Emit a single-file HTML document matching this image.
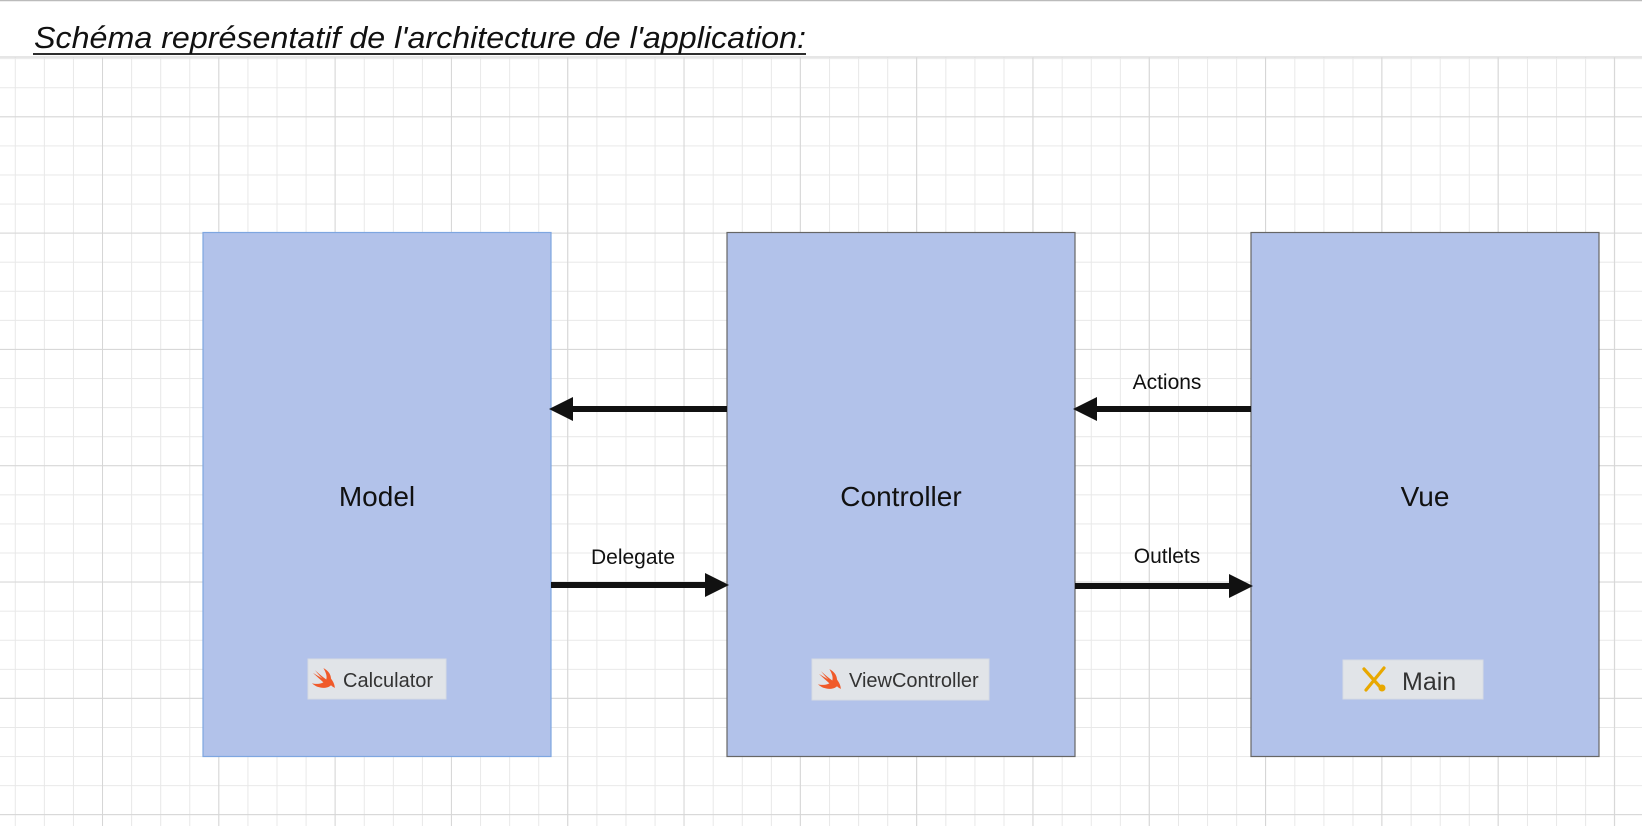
<!DOCTYPE html>
<html><head><meta charset="utf-8"><style>
html,body{margin:0;padding:0;background:#fff;}
svg{display:block;}
text{font-family:"Liberation Sans",sans-serif;}
</style></head><body>
<svg width="1642" height="826" viewBox="0 0 1642 826" xmlns="http://www.w3.org/2000/svg">
<defs>
<pattern id="minor" x="14.8" y="0" width="29.08" height="29.08" patternUnits="userSpaceOnUse">
<path d="M0 0 H29.08 M0 0 V29.08" stroke="#e8e8e8" stroke-width="2" fill="none"/>
</pattern>
<pattern id="major" x="102" y="0" width="116.3" height="116.3" patternUnits="userSpaceOnUse">
<path d="M0 0 H116.3 M0 0 V116.3" stroke="#d6d6d6" stroke-width="2" fill="none"/>
</pattern>
<g id="swift">
<path d="M0 14 C6 20 16 20 20 16 C22 18 23 18 24 19 C24 15 22 12 20 9 C20 4 16 0 12 -2 C15 3 16 7 15 10 C11 7 6 3 3 0 C6 4 9 7 11 9 C8 7 4 5 1 3 C5 7 9 10 12 13 C8 15 3 15 0 14Z" fill="#f05a2a"/>
</g>
</defs>
<rect x="0" y="57" width="1642" height="769" fill="url(#minor)"/>
<rect x="0" y="57" width="1642" height="769" fill="url(#major)"/>
<rect x="0" y="0" width="1642" height="57" fill="#fff"/>
<line x1="0" y1="0.5" x2="1642" y2="0.5" stroke="#bbb" stroke-width="1.5"/>
<line x1="0" y1="57" x2="1642" y2="57" stroke="#ddd" stroke-width="1.5"/>
<text x="34" y="48" font-size="31" font-style="italic" fill="#111" textLength="772" lengthAdjust="spacingAndGlyphs">Schéma représentatif de l'architecture de l'application:</text>
<line x1="33" y1="54" x2="806" y2="54" stroke="#111" stroke-width="1.8"/>

<rect x="203" y="232.5" width="348" height="524" fill="#b2c2ea" stroke="#7ea6e0" stroke-width="1.2"/>
<rect x="727" y="232.5" width="348" height="524" fill="#b2c2ea" stroke="#666" stroke-width="1.2"/>
<rect x="1251" y="232.5" width="348" height="524" fill="#b2c2ea" stroke="#666" stroke-width="1.2"/>

<text x="377" y="506" font-size="28" text-anchor="middle" fill="#111">Model</text>
<text x="901" y="506" font-size="28" text-anchor="middle" fill="#111">Controller</text>
<text x="1425" y="506" font-size="28" text-anchor="middle" fill="#111">Vue</text>

<line x1="727" y1="409" x2="570" y2="409" stroke="#111" stroke-width="6"/>
<path d="M549 409 L573 397 L573 421 Z" fill="#111"/>
<line x1="551" y1="585" x2="708" y2="585" stroke="#111" stroke-width="6"/>
<path d="M729 585 L705 573 L705 597 Z" fill="#111"/>
<line x1="1251" y1="409" x2="1094" y2="409" stroke="#111" stroke-width="6"/>
<path d="M1073 409 L1097 397 L1097 421 Z" fill="#111"/>
<line x1="1075" y1="586" x2="1232" y2="586" stroke="#111" stroke-width="6"/>
<path d="M1253 586 L1229 574 L1229 598 Z" fill="#111"/>

<text x="633" y="564" font-size="21" text-anchor="middle" fill="#111">Delegate</text>
<text x="1167" y="389" font-size="21" text-anchor="middle" fill="#111">Actions</text>
<text x="1167" y="563" font-size="21" text-anchor="middle" fill="#111">Outlets</text>

<rect x="308" y="659" width="138" height="40" fill="#e1e4e8" stroke="#d6dbe3"/>
<use href="#swift" transform="translate(312,670) scale(0.95)"/>
<text x="343" y="687" font-size="20" fill="#333">Calculator</text>

<rect x="812" y="659" width="177" height="41" fill="#e1e4e8" stroke="#d6dbe3"/>
<use href="#swift" transform="translate(818,671) scale(0.95)"/>
<text x="849" y="687" font-size="20" fill="#333">ViewController</text>

<rect x="1343" y="660" width="140" height="39" fill="#e1e4e8" stroke="#d6dbe3"/>
<g stroke="#e8a800" stroke-width="3.2" stroke-linecap="round">
<line x1="1364" y1="669" x2="1381" y2="688"/>
<line x1="1384" y1="668" x2="1366" y2="690"/>
</g>
<circle cx="1382" cy="688" r="3.5" fill="#e8a800"/>
<text x="1402" y="690" font-size="25" fill="#333">Main</text>
</svg>
</body></html>
